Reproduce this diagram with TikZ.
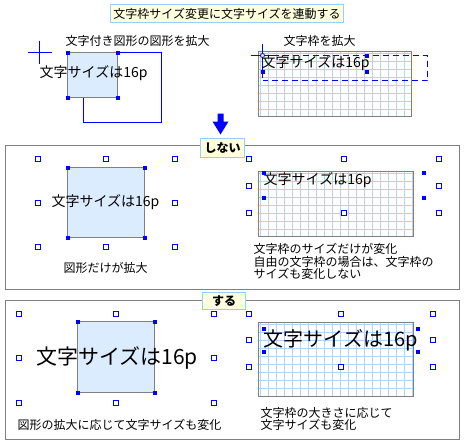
\documentclass[tikz,border=0pt]{standalone}
\usepackage{fontspec}
\setmainfont{Noto Sans CJK JP}
\definecolor{hblue}{RGB}{0,0,255}
\definecolor{boxfill}{RGB}{220,236,255}
\definecolor{gridc}{RGB}{180,210,255}
\definecolor{titlefill}{RGB}{255,255,224}
\definecolor{titledraw}{RGB}{153,204,255}
\definecolor{framegray}{RGB}{128,128,128}
\newcommand\mygrid[4]{%
  \begin{scope}
    \clip (#1,#2) rectangle (#3,#4);
    \fill[white] (#1,#2) rectangle (#3,#4);
    \foreach \gx in {0,8,...,160} \draw[gridline] (#1+2+\gx,#2) -- (#1+2+\gx,#4);
    \foreach \gy in {0,8,...,80} \draw[gridline] (#1,#2+2+\gy) -- (#3,#2+2+\gy);
  \end{scope}
  \draw[framegray, line width=1pt] (#1,#2) rectangle (#3,#4);}
\begin{document}
\begin{tikzpicture}[x=1pt,y=-1pt,
  openh/.style={draw=hblue, fill=white, line width=1pt, minimum size=5pt, inner sep=0pt, rectangle},
  fillh/.style={fill=hblue, minimum size=4pt, inner sep=0pt, rectangle},
  shapebox/.style={draw=framegray, fill=boxfill, line width=1pt},
  panel/.style={draw=framegray, line width=1pt},
  gridline/.style={draw=gridc, line width=1pt},
  lbl/.style={draw=titledraw, fill=titlefill, line width=1pt, inner sep=0pt, font=\bfseries\fontsize{12}{12}\selectfont},
  txt/.style={inner sep=0pt, font=\fontsize{12}{12.5}\selectfont},
  t14/.style={inner sep=0pt, font=\fontsize{14}{14}\selectfont},
  t20/.style={inner sep=0pt, font=\fontsize{20}{20}\selectfont},
  t21/.style={inner sep=0pt, font=\fontsize{21}{21}\selectfont}]
\useasboundingbox (-0.5,-0.5) rectangle (464.5,444.5);
\fill[white] (-0.5,-0.5) rectangle (464.5,444.5);

% title
\node[draw=titledraw, fill=titlefill, line width=1pt, minimum width=233pt, minimum height=18pt, inner sep=0pt, font=\fontsize{12}{12}\selectfont] (title) at (226.5,13) {文字枠サイズ変更に文字サイズを連動する};

% ---------- top left ----------
\node[txt] (capA) at (137,40) {文字付き図形の図形を拡大};
\draw[hblue, line width=1pt] (83,52) rectangle (161,122);
\draw[shapebox] (67,52) rectangle (117,97);
\draw[hblue, line width=1pt] (27,52) -- (51,52) (39,40) -- (39,63);
\node[t14, anchor=west] (txtA) at (39,73) {文字サイズは16p};
\foreach \p in {(67,52),(117,52),(67,97),(117,97)} \node[fillh] at \p {};

% ---------- top right ----------
\node[txt] (capB) at (319,40) {文字枠を拡大};
\mygrid{258}{51}{411}{116}
\draw[hblue, line width=1pt, dash pattern=on 6pt off 4pt] (262,55) -- (427,55) -- (427,80) -- (262,80);
\draw[hblue, line width=1pt] (250,55) -- (274,55) (262,43) -- (262,77);
\node[t14, anchor=west] (txtB) at (261,63) {文字サイズは16p};
\node[draw=hblue, fill=white, circle, minimum size=4pt, inner sep=0pt, line width=0.8pt] at (262,55) {};
\foreach \p in {(262,71),(366,55),(366,71)} \node[fillh] at \p {};

% arrow
\fill[hblue] (217,113) -- (223,113) -- (223,121) -- (228,121) -- (220,134) -- (212,121) -- (217,121) -- cycle;

% ---------- panel 1 ----------
\draw[panel] (5,145) rectangle (459,289);
\node[lbl, minimum width=44pt, minimum height=19pt] (lbl1) at (222,147.5) {しない};

\draw[shapebox] (67,167) rectangle (144,237);
\node[t14] (txtC) at (105,202) {文字サイズは16p};
\foreach \p in {(67,167),(144,167),(67,237),(144,237)} \node[fillh] at \p {};
\foreach \p in {(37,158),(105,158),(174,158),(37,202),(174,202),(37,246),(105,246),(174,246)} \node[openh] at \p {};
\node[txt] (capC) at (105,267) {図形だけが拡大};

\mygrid{258}{171}{413}{236}
\node[t14, anchor=west] (txtD) at (263,180) {文字サイズは16p};
\foreach \p in {(263,172),(263,197),(423,172),(423,197)} \node[fillh] at \p {};
\foreach \p in {(248,158),(343,158),(438,158),(248,185),(438,185),(248,212),(343,212),(438,212)} \node[openh] at \p {};
\node[txt, anchor=north west, align=left] (capD) at (253,243) {文字枠のサイズだけが変化\\自由の文字枠の場合は、文字枠の\\サイズも変化しない};

% ---------- panel 2 ----------
\draw[panel] (5,300) rectangle (459,439);
\node[lbl, minimum width=43pt, minimum height=17pt] (lbl2) at (223.5,300.5) {する};

\draw[shapebox] (77,321) rectangle (154,392);
\node[t21] (txtE) at (116.5,357) {文字サイズは16p};
\foreach \p in {(77,321),(154,321),(77,392),(154,392)} \node[fillh] at \p {};
\foreach \p in {(18,313),(115,313),(213,313),(18,357),(213,357),(18,402),(115,402),(213,402)} \node[openh] at \p {};
\node[txt] (capE) at (119,424) {図形の拡大に応じて文字サイズも変化};

\mygrid{258}{322}{413}{396}
\node[t20, anchor=west] (txtF) at (263,340) {文字サイズは16p};
\foreach \p in {(263,328),(263,351),(417,328),(417,351)} \node[fillh] at \p {};
\foreach \p in {(248,313),(340,313),(432,313),(248,339),(432,339),(248,366),(340,366),(432,366)} \node[openh] at \p {};
\node[txt, anchor=north west, align=left, font=\fontsize{12}{11.5}\selectfont] (capF) at (260,407) {文字枠の大きさに応じて\\文字サイズも変化};
\end{tikzpicture}
\end{document}
